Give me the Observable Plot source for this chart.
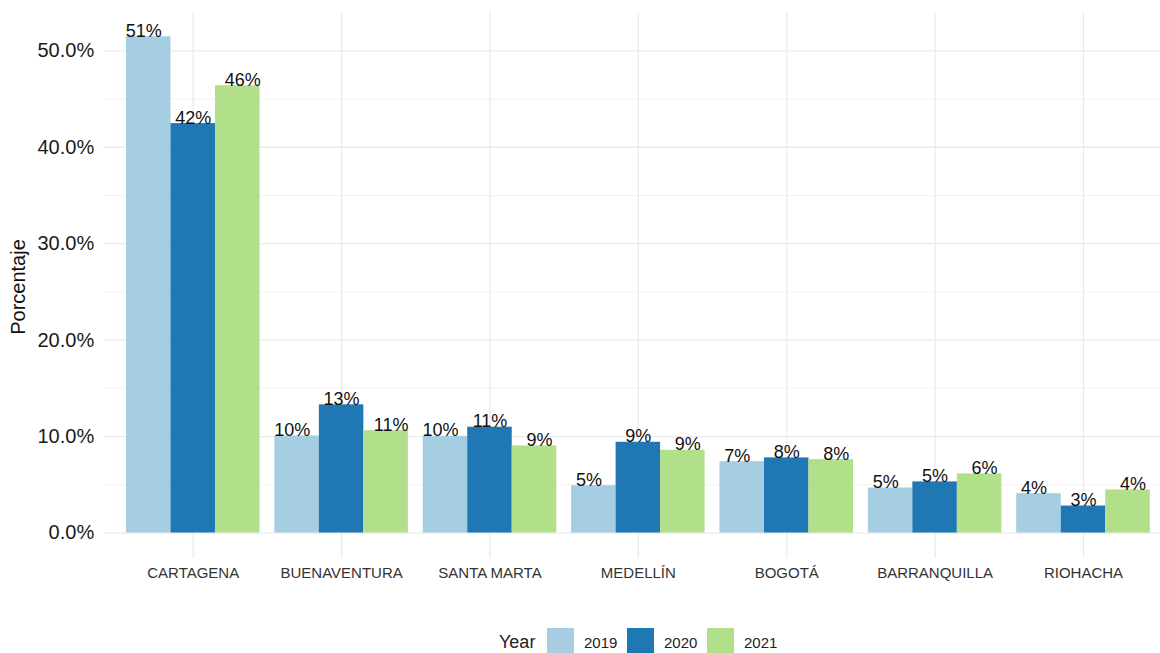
<!DOCTYPE html>
<html>
<head>
<meta charset="utf-8">
<script src="https://cdn.jsdelivr.net/npm/d3@7"></script>
<script src="https://cdn.jsdelivr.net/npm/@observablehq/plot@0.6"></script>
<style>
  html, body { margin: 0; padding: 0; background: #fff; overflow: hidden; }
  #wrap { position: relative; width: 1160px; height: 653px; overflow: hidden; font-family: "Liberation Sans", Arial, sans-serif; }
  #wrap svg { position: absolute; left: 0; top: 0; max-width: none !important; }
  .ylab { position: absolute; left: 18px; top: 286.5px; transform: translate(-50%, -50%) rotate(-90deg); font-size: 20px; line-height: 1; white-space: nowrap; color: #111; }
  .leg { position: absolute; line-height: 1; white-space: nowrap; color: #222; }
  .sw { position: absolute; width: 27px; height: 25px; }
</style>
</head>
<body>
<div id="wrap"></div>
<script>
const cities = ["CARTAGENA", "BUENAVENTURA", "SANTA MARTA", "MEDELLÍN", "BOGOTÁ", "BARRANQUILLA", "RIOHACHA"];
const years = ["2019", "2020", "2021"];
const v2019 = [51.46, 10.07, 10.03, 4.91, 7.40, 4.67, 4.08];
const v2020 = [42.45, 13.29, 10.97, 9.41, 7.79, 5.30, 2.80];
const v2021 = [46.38, 10.62, 9.03, 8.58, 7.61, 6.13, 4.47];
const yMajor = [0, 10, 20, 30, 40, 50];
const yMinor = [5, 15, 25, 35, 45];
const colors = ["#A6CEE3", "#1F78B4", "#B2DF8A"];

const series = [v2019, v2020, v2021];
const rows = [];
cities.forEach((c, i) => years.forEach((yr, j) => rows.push({city: c, year: yr, value: series[j][i]})));

const W = 1172, H = 600;
const common = {
  width: W, height: H,
  marginLeft: 103.7, marginRight: 0, marginTop: 12, marginBottom: H - 558,
  style: {fontFamily: "'Liberation Sans', Arial, sans-serif", background: "transparent", overflow: "visible"},
  y: {domain: [-2.64, 53.97], axis: null}
};

const bg = Plot.plot({
  ...common,
  x: {type: "band", domain: cities, paddingInner: 0, paddingOuter: 0.1, round: false, axis: null},
  marks: [
    Plot.ruleY(yMinor, {stroke: "#F2F2F2", strokeWidth: 0.9}),
    Plot.ruleY(yMajor, {stroke: "#EBEBEB", strokeWidth: 1.3}),
    Plot.ruleX(cities, {x: d => d, stroke: "#EBEBEB", strokeWidth: 1.3}),
    Plot.axisY({ticks: yMajor, tickFormat: d => d.toFixed(1) + "%", tickSize: 0, tickPadding: 10, fontSize: 20, fill: "#1a1a1a", label: null}),
    Plot.axisX({anchor: "bottom", tickSize: 0, tickPadding: 9, fontSize: 15, fill: "#333", label: null})
  ]
});

const step = (W - 103.7) / 7.2;
const fg = Plot.plot({
  ...common,
  fx: {domain: cities, paddingInner: 0.1, paddingOuter: 0.15, round: false, label: null, axis: null},
  x: {domain: years, padding: 0, round: false, axis: null},
  color: {domain: years, range: colors},
  marks: [
    Plot.barY(rows, {fx: "city", x: "year", y: "value", fill: "year"}),
    ...years.map((yr, i) => Plot.text(rows.filter(d => d.year === yr), {
      fx: "city", x: "year", y: "value",
      text: d => Math.round(d.value) + "%",
      lineAnchor: "bottom", dx: (i - 1) * (1/3 - 0.3) * step,
      fontSize: 18, fill: "#111"
    }))
  ]
});

const wrap = document.getElementById("wrap");
wrap.appendChild(bg);
wrap.appendChild(fg);

const ylab = document.createElement("div");
ylab.className = "ylab";
ylab.textContent = "Porcentaje";
wrap.appendChild(ylab);

function addText(txt, left, baseline, size) {
  const d = document.createElement("div");
  d.className = "leg";
  d.textContent = txt;
  d.style.fontSize = size + "px";
  d.style.left = left + "px";
  d.style.top = (baseline - 0.8465 * size) + "px";
  wrap.appendChild(d);
}
addText("Year", 499, 648.5, 18);
const swX = [547, 627, 707];
const txX = [584, 664, 744];
years.forEach((yr, i) => {
  const s = document.createElement("div");
  s.className = "sw";
  s.style.left = swX[i] + "px";
  s.style.top = "628px";
  s.style.background = colors[i];
  wrap.appendChild(s);
  addText(yr, txX[i], 648, 15);
});
</script>
</body>
</html>
